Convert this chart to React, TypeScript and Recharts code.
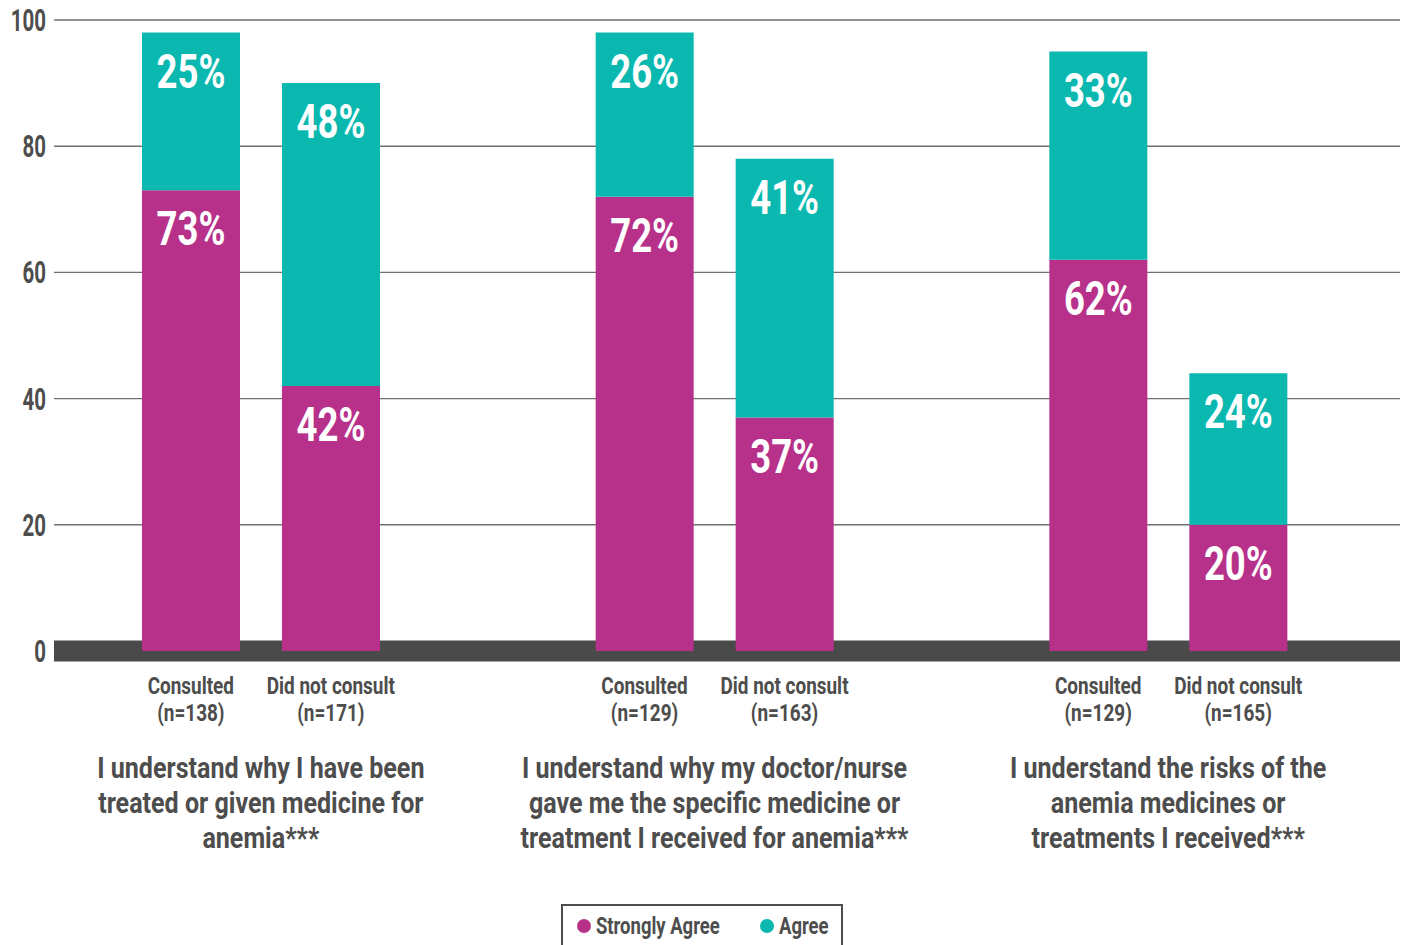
import React from 'react';
import { BarChart, Bar, XAxis, YAxis, CartesianGrid, Legend, LabelList } from 'recharts';

const questions = [
  ['I understand why I have been', 'treated or given medicine for', 'anemia***'],
  ['I understand why my doctor/nurse', 'gave me the specific medicine or', 'treatment I received for anemia***'],
  ['I understand the risks of the', 'anemia medicines or', 'treatments I received***'],
];
const consultedStrongly = [73, 72, 62];
const consultedAgree = [25, 26, 33];
const notConsultedStrongly = [42, 37, 20];
const notConsultedAgree = [48, 41, 24];
const consultedN = [138, 129, 129];
const notConsultedN = [171, 163, 165];
const yTicks = [0, 20, 40, 60, 80, 100];

const MAGENTA = '#b7318a';
const TEAL = '#0ab8af';
const GREY = '#4d4d4d';
const FONT = "Roboto, 'Liberation Sans', sans-serif";

const W = 1404;
const H = 945;
const TOP = 20;
const LEGEND_H = 40;
const XAXIS_H = 254;
const ZERO_Y = H - LEGEND_H - XAXIS_H;
const PAIR_OFFSET = 70;

const chartData = questions.map((q, i) => ({
  name: q.join(' '),
  cStrong: consultedStrongly[i],
  cAgree: consultedAgree[i],
  nStrong: notConsultedStrongly[i],
  nAgree: notConsultedAgree[i],
}));

// no condensed font is installed, so squeeze a bold face horizontally
const Cond = ({ x, y, size, sx, fill = GREY, anchor = 'middle', children }: any) => (
  <text
    transform={`translate(${x} ${y}) scale(${sx} 1)`}
    textAnchor={anchor}
    fontFamily={FONT}
    fontWeight="bold"
    fontSize={size}
    fill={fill}
  >
    {children}
  </text>
);

const YTick = (props: any) => {
  const { x, y, payload } = props;
  return (
    <Cond x={x} y={y + 11} size={31} sx={0.66} anchor="end">
      {payload.value}
    </Cond>
  );
};

const GroupTick = (props: any) => {
  const { x, y, payload } = props;
  const i = payload.index;
  const sub = [
    { dx: -PAIR_OFFSET, l1: 'Consulted', l2: `(n=${consultedN[i]})` },
    { dx: PAIR_OFFSET, l1: 'Did not consult', l2: `(n=${notConsultedN[i]})` },
  ];
  return (
    <g>
      {sub.map((s) => (
        <g key={s.l1}>
          <Cond x={x + s.dx} y={y + 41} size={24} sx={0.79}>
            {s.l1}
          </Cond>
          <Cond x={x + s.dx} y={y + 68} size={24} sx={0.79}>
            {s.l2}
          </Cond>
        </g>
      ))}
      {questions[i].map((line, k) => (
        <Cond key={k} x={x} y={y + 125 + k * 35} size={29.5} sx={0.85}>
          {line}
        </Cond>
      ))}
    </g>
  );
};

const PctLabel = (props: any) => {
  const { x, y, width, value } = props;
  return (
    <Cond x={x + width / 2} y={y + 55} size={48} sx={0.76} fill="#fff">
      {value}%
    </Cond>
  );
};

const GridLine = (props: any) => {
  const { x1, x2, y1, y2 } = props;
  if (Math.abs(y1 - ZERO_Y) < 2) {
    return <line x1={x1} x2={x2} y1={y1} y2={y2} stroke="#4a4a4a" strokeWidth={21} />;
  }
  return <line x1={x1} x2={x2} y1={y1} y2={y2} stroke="#707070" strokeWidth={1.4} />;
};

const LegendBox = () => (
  <div style={{ display: 'flex', justifyContent: 'center' }}>
    <svg width={282} height={45} style={{ display: 'block' }}>
      <rect x={1} y={1} width={280} height={70} fill="#fff" stroke={GREY} strokeWidth={2} />
      <circle cx={23} cy={22} r={7} fill={MAGENTA} />
      <Cond x={35} y={30} size={24} sx={0.77} anchor="start">
        Strongly Agree
      </Cond>
      <circle cx={206} cy={22} r={7} fill={TEAL} />
      <Cond x={218} y={30} size={24} sx={0.77} anchor="start">
        Agree
      </Cond>
    </svg>
  </div>
);

export default function App() {
  return (
    <div style={{ position: 'absolute', left: 0, top: 0, width: W, height: H, overflow: 'hidden', background: '#fff' }}>
      <BarChart
        width={W}
        height={H}
        data={chartData}
        margin={{ top: TOP, right: 4, left: 0, bottom: 0 }}
        barSize={98}
        barGap={42}
      >
        <CartesianGrid vertical={false} horizontal={GridLine} />
        <YAxis
          width={54}
          domain={[0, 100]}
          ticks={yTicks}
          axisLine={false}
          tickLine={false}
          tickSize={0}
          tickMargin={8}
          tick={<YTick />}
        />
        <XAxis
          dataKey="name"
          height={XAXIS_H}
          axisLine={false}
          tickLine={false}
          tickSize={0}
          interval={0}
          padding={{ left: -20, right: 5 }}
          tick={<GroupTick />}
        />
        <Legend
          verticalAlign="bottom"
          height={LEGEND_H}
          content={<LegendBox />}
          wrapperStyle={{ left: 0, width: W, top: 904, bottom: 'auto' }}
        />
        <Bar dataKey="cStrong" name="Strongly Agree" stackId="c" fill={MAGENTA} isAnimationActive={false}>
          <LabelList dataKey="cStrong" content={<PctLabel />} />
        </Bar>
        <Bar dataKey="cAgree" name="Agree" stackId="c" fill={TEAL} isAnimationActive={false}>
          <LabelList dataKey="cAgree" content={<PctLabel />} />
        </Bar>
        <Bar dataKey="nStrong" name="Strongly Agree" stackId="n" fill={MAGENTA} isAnimationActive={false}>
          <LabelList dataKey="nStrong" content={<PctLabel />} />
        </Bar>
        <Bar dataKey="nAgree" name="Agree" stackId="n" fill={TEAL} isAnimationActive={false}>
          <LabelList dataKey="nAgree" content={<PctLabel />} />
        </Bar>
      </BarChart>
    </div>
  );
}
